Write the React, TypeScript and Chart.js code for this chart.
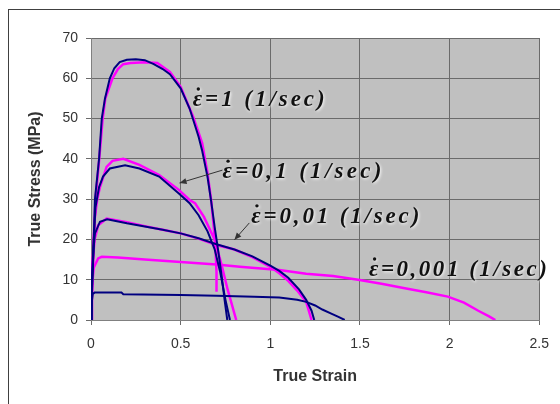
import React, { useEffect, useRef } from "react";
import { Chart, registerables } from "chart.js";

Chart.register(...registerables);

// ---- data (strain, stress in MPa) ----
const exp1Strain = [0, 0.01, 0.022, 0.045, 0.06, 0.078, 0.105, 0.13, 0.16, 0.2, 0.25, 0.3, 0.35, 0.4, 0.44, 0.5, 0.55, 0.6, 0.62, 0.65, 0.67, 0.69, 0.71, 0.73, 0.745, 0.76];
const exp1Stress = [0, 12, 30, 40, 50, 55, 60, 62.5, 64, 64.6, 64.7, 64.5, 63.5, 62.3, 61, 57.5, 52.5, 45.5, 42, 35.5, 29.5, 23, 17, 10.5, 5, 0];
const mod1Strain = [0, 0.01, 0.025, 0.046, 0.065, 0.08, 0.12, 0.15, 0.18, 0.22, 0.3, 0.37, 0.44, 0.5, 0.57, 0.62, 0.65, 0.67, 0.685, 0.695, 0.7, 0.7];
const mod1Stress = [0, 12, 30, 40, 50, 55, 60, 62.3, 63.5, 63.8, 64, 63.8, 61.6, 57.9, 50.4, 43.9, 36.4, 29.8, 23, 17, 12, 7];

const exp01Strain = [0, 0.01, 0.025, 0.045, 0.067, 0.105, 0.19, 0.27, 0.38, 0.49, 0.55, 0.6, 0.65, 0.69, 0.72, 0.75, 0.775];
const exp01Stress = [0, 15, 28, 33, 35.6, 37.6, 38.4, 37.6, 35.6, 31.4, 29, 26, 22, 17.5, 12, 5, 0];
const mod01Strain = [0, 0.01, 0.02, 0.035, 0.05, 0.087, 0.12, 0.18, 0.27, 0.38, 0.49, 0.55, 0.58, 0.63, 0.69, 0.726, 0.763, 0.81];
const mod01Stress = [0, 15, 25, 30, 33, 38, 39.5, 40, 38.5, 36, 32.3, 29.8, 29, 25.6, 19.9, 14.1, 7.4, 0];

const exp001Strain = [0, 0.005, 0.015, 0.022, 0.05, 0.09, 0.2, 0.3, 0.4, 0.5, 0.6, 0.7, 0.8, 0.9, 1.0, 1.05, 1.1, 1.16, 1.2, 1.23, 1.245];
const exp001Stress = [0, 10, 18, 21.5, 24.4, 25, 24, 23.2, 22.4, 21.5, 20.3, 18.8, 17.5, 15.8, 13.5, 12.2, 10.5, 7.6, 5, 2.3, 0];
const mod001Strain = [0, 0.005, 0.02, 0.04, 0.087, 0.2, 0.3, 0.4, 0.5, 0.6, 0.7, 0.8, 0.9, 1.0, 1.05, 1.1, 1.15, 1.2, 1.23];
const mod001Stress = [0, 12, 20, 23.5, 25.2, 24.3, 23.3, 22.4, 21.5, 20.2, 18.6, 17.5, 15.6, 13.2, 11.6, 9.7, 7.3, 4.5, 0];

const exp0001Strain = [0, 0.003, 0.01, 0.02, 0.17, 0.18, 0.5, 0.7, 0.91, 1.05, 1.15, 1.2, 1.25, 1.29, 1.34, 1.38, 1.415];
const exp0001Stress = [0, 4, 6.5, 6.8, 6.8, 6.4, 6.2, 6.0, 5.8, 5.6, 5.0, 4.5, 3.6, 2.6, 1.6, 0.8, 0];
const mod0001Strain = [0, 0.005, 0.015, 0.04, 0.06, 0.15, 0.3, 0.5, 0.7, 0.83, 1.05, 1.2, 1.35, 1.49, 1.62, 1.75, 1.87, 1.99, 2.08, 2.16, 2.22, 2.255];
const mod0001Stress = [0, 8, 13, 15.3, 15.7, 15.5, 15, 14.4, 13.8, 13.2, 12.4, 11.5, 10.9, 10, 9, 7.9, 6.9, 5.8, 4.3, 2.3, 0.9, 0];

const xTicks = [0, 0.5, 1, 1.5, 2, 2.5];
const yTicks = [0, 10, 20, 30, 40, 50, 60, 70];

// label text after the dotted epsilon symbol
const labelTexts = ["=1 (1/sec)", "=0,1 (1/sec)", "=0,01 (1/sec)", "=0,001 (1/sec)"];
const labelAnchors = [[0.567, 54.6], [0.733, 36.7], [0.894, 25.6], [1.55, 12.4]];
const labelWidths = [132, 159, 168, 178];
const arrows = [[0.733, 37.2, 0.494, 34.0], [0.883, 24.1, 0.8, 19.9]];

const NAVY = "#000080";
const MAGENTA = "#ff00ff";

function pts(xs: number[], ys: number[]) {
  return xs.map((x, i) => ({ x, y: ys[i] }));
}

const bgPlugin = {
  id: "plotBg",
  beforeDraw(chart: any) {
    const { ctx, chartArea } = chart;
    ctx.save();
    ctx.fillStyle = "#c0c0c0";
    ctx.fillRect(chartArea.left, chartArea.top, chartArea.right - chartArea.left, chartArea.bottom - chartArea.top);
    ctx.restore();
  },
};

const annPlugin = {
  id: "annotations",
  afterDatasetsDraw(chart: any) {
    const { ctx, scales } = chart;
    const sx = scales.x, sy = scales.y;
    ctx.save();
    ctx.strokeStyle = "#333";
    ctx.fillStyle = "#333";
    ctx.lineWidth = 1;
    arrows.forEach(([x1, y1, x2, y2]) => {
      const ax = sx.getPixelForValue(x1), ay = sy.getPixelForValue(y1);
      const bx = sx.getPixelForValue(x2), by = sy.getPixelForValue(y2);
      ctx.beginPath();
      ctx.moveTo(ax, ay);
      ctx.lineTo(bx, by);
      ctx.stroke();
      const ang = Math.atan2(by - ay, bx - ax);
      const L = 7, W = 3;
      ctx.beginPath();
      ctx.moveTo(bx, by);
      ctx.lineTo(bx - L * Math.cos(ang) + W * Math.sin(ang), by - L * Math.sin(ang) - W * Math.cos(ang));
      ctx.lineTo(bx - L * Math.cos(ang) - W * Math.sin(ang), by - L * Math.sin(ang) + W * Math.cos(ang));
      ctx.closePath();
      ctx.fill();
    });
    ctx.font = "italic bold 23px 'Liberation Serif', 'DejaVu Serif', serif";
    ctx.textBaseline = "middle";
    ctx.textAlign = "left";
    labelTexts.forEach((t, i) => {
      const px = sx.getPixelForValue(labelAnchors[i][0]);
      const py = sy.getPixelForValue(labelAnchors[i][1]);
      const chars = ["\u03B5", ...Array.from(t)];
      const widths = chars.map((c) => ctx.measureText(c).width);
      const total = widths.reduce((a, b) => a + b, 0);
      const gap = (labelWidths[i] - total) / (chars.length - 1);
      ctx.save();
      ctx.shadowColor = "rgba(255,255,255,0.95)";
      ctx.shadowBlur = 3;
      ctx.shadowOffsetX = 1;
      ctx.shadowOffsetY = 1;
      ctx.fillStyle = "#111";
      let x = px;
      chars.forEach((c, j) => {
        ctx.fillText(c, x, py);
        if (j === 0) {
          ctx.beginPath();
          ctx.arc(x + widths[0] * 0.6, py - 11, 1.7, 0, Math.PI * 2);
          ctx.fill();
        }
        x += widths[j] + gap;
      });
      ctx.restore();
    });
    ctx.restore();
  },
};

export default function App() {
  const ref = useRef<HTMLCanvasElement | null>(null);
  useEffect(() => {
    if (!ref.current) return;
    const mk = (xs: number[], ys: number[], color: string, w: number) => ({
      data: pts(xs, ys),
      borderColor: color,
      backgroundColor: color,
      borderWidth: w,
      showLine: true,
      pointRadius: 0,
      tension: 0,
    });
    const chart = new Chart(ref.current, {
      type: "scatter",
      data: {
        datasets: [
          mk(exp1Strain, exp1Stress, NAVY, 2),
          mk(exp01Strain, exp01Stress, NAVY, 2),
          mk(exp001Strain, exp001Stress, NAVY, 2),
          mk(exp0001Strain, exp0001Stress, NAVY, 2),
          mk(mod1Strain, mod1Stress, MAGENTA, 2.5),
          mk(mod01Strain, mod01Stress, MAGENTA, 2.5),
          mk(mod001Strain, mod001Stress, MAGENTA, 2.5),
          mk(mod0001Strain, mod0001Stress, MAGENTA, 2.5),
        ],
      },
      options: {
        responsive: false,
        animation: false,
        layout: { padding: { left: 0, right: 18, top: 38, bottom: 0 } },
        plugins: { legend: { display: false }, tooltip: { enabled: false } },
        scales: {
          x: {
            type: "linear",
            min: 0,
            max: 2.5,
            afterFit: (s: any) => { s.height = 84; },
            afterBuildTicks: (s: any) => { s.ticks = xTicks.map((v) => ({ value: v })); },
            ticks: {
              padding: 11,
              color: "#333",
              font: { family: "'Liberation Sans', Arial, sans-serif", size: 14 },
              callback: (v: any) => String(v),
            },
            grid: { color: "#6b6b6b", lineWidth: 1, tickLength: 5, tickColor: "#6b6b6b" },
            border: { color: "#808080" },
            title: {
              display: true,
              text: "True Strain",
              color: "#333",
              font: { family: "'Liberation Sans', Arial, sans-serif", size: 16, weight: "bold" },
              padding: { top: 0, bottom: 18 },
            },
          },
          y: {
            type: "linear",
            min: 0,
            max: 70,
            afterFit: (s: any) => { s.width = 91; },
            afterBuildTicks: (s: any) => { s.ticks = yTicks.map((v) => ({ value: v })); },
            ticks: {
              padding: 8,
              color: "#333",
              font: { family: "'Liberation Sans', Arial, sans-serif", size: 14 },
            },
            grid: { color: "#6b6b6b", lineWidth: 1, tickLength: 5, tickColor: "#6b6b6b" },
            border: { color: "#808080" },
            title: {
              display: true,
              text: "True Stress (MPa)",
              color: "#333",
              font: { family: "'Liberation Sans', Arial, sans-serif", size: 16, weight: "bold" },
              padding: { top: 26, bottom: 0 },
            },
          },
        },
      },
      plugins: [bgPlugin, annPlugin],
    });
    return () => chart.destroy();
  }, []);
  return (
    <div style={{ position: "fixed", left: 0, top: 0, width: 560, height: 404, background: "#fff", overflow: "hidden" }}>
      <div style={{ position: "absolute", left: 8, top: 9, width: 600, height: 500, borderTop: "1px solid #404040", borderLeft: "1px solid #404040" }} />
      <canvas ref={ref} width={560} height={404} style={{ position: "absolute", left: 0, top: 0, width: 560, height: 404 }} />
    </div>
  );
}
